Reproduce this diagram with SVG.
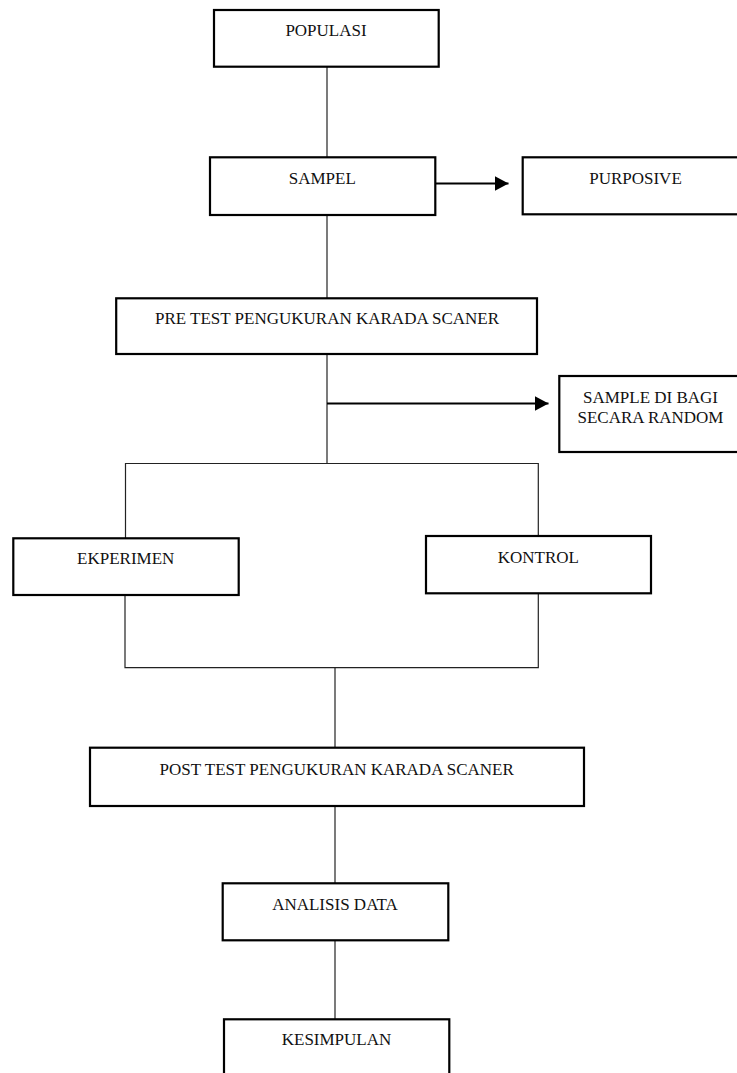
<svg xmlns="http://www.w3.org/2000/svg" width="737" height="1073" viewBox="0 0 737 1073">
<style>
.box{fill:#fff;stroke:#000;stroke-width:2.2}
.t{font-family:"Liberation Serif","Times New Roman",serif;font-size:17px;fill:#111;text-anchor:middle}
.c{fill:none;stroke:#222;stroke-width:1.2}
.a{fill:none;stroke:#000;stroke-width:2}
</style>
<defs>
<marker id="ah" markerUnits="userSpaceOnUse" markerWidth="15" markerHeight="16" refX="14" refY="8" orient="auto">
<path d="M0,0.5 L14,8 L0,15.5 z" fill="#000"/>
</marker>
</defs>
<rect width="737" height="1073" fill="#fff"/>
<g id="connectors">
<line class="c" x1="327" y1="66.7" x2="327" y2="157.3"/>
<line class="a" x1="435.3" y1="183.5" x2="508.5" y2="183.5" marker-end="url(#ah)"/>
<line class="c" x1="327" y1="215" x2="327" y2="298.3"/>
<line class="c" x1="327" y1="354" x2="327" y2="463.5"/>
<line class="a" x1="327" y1="403.5" x2="548.5" y2="403.5" marker-end="url(#ah)"/>
<polyline class="c" points="125.5,538.3 125.5,463.5 538.3,463.5 538.3,536"/>
<polyline class="c" points="125,595 125,667.7 538.3,667.7 538.3,593.3"/>
<line class="c" x1="335" y1="667.7" x2="335" y2="747.7"/>
<line class="c" x1="335" y1="806" x2="335" y2="883.3"/>
<line class="c" x1="335" y1="940.3" x2="335" y2="1019.3"/>
</g>
<g id="populasi">
<rect class="box" x="214" y="10" width="224.7" height="56.7"/>
<text class="t" x="326" y="36">POPULASI</text>
</g>
<g id="sampel">
<rect class="box" x="210" y="157.3" width="225.3" height="57.7"/>
<text class="t" x="322.3" y="184.3">SAMPEL</text>
</g>
<g id="purposive">
<rect class="box" x="522.7" y="157.3" width="220" height="57"/>
<text class="t" x="635.5" y="184.3">PURPOSIVE</text>
</g>
<g id="pretest">
<rect class="box" x="116.2" y="298.3" width="420.8" height="55.7"/>
<text class="t" x="327" y="324.3">PRE TEST PENGUKURAN KARADA SCANER</text>
</g>
<g id="random">
<rect class="box" x="559.3" y="376" width="185" height="76"/>
<text class="t" x="650.5" y="403.3">SAMPLE DI BAGI</text>
<text class="t" x="650.5" y="423.3">SECARA RANDOM</text>
</g>
<g id="ekperimen">
<rect class="box" x="13.3" y="538.3" width="225.4" height="56.7"/>
<text class="t" x="125.7" y="564.3">EKPERIMEN</text>
</g>
<g id="kontrol">
<rect class="box" x="426" y="536" width="225" height="57.3"/>
<text class="t" x="538.3" y="563.3">KONTROL</text>
</g>
<g id="posttest">
<rect class="box" x="90" y="747.7" width="494" height="58.3"/>
<text class="t" x="336.7" y="774.5">POST TEST PENGUKURAN KARADA SCANER</text>
</g>
<g id="analisis">
<rect class="box" x="222.7" y="883.3" width="225.6" height="57"/>
<text class="t" x="335" y="910">ANALISIS DATA</text>
</g>
<g id="kesimpulan">
<rect class="box" x="224" y="1019.3" width="225.3" height="70"/>
<text class="t" x="336.5" y="1045">KESIMPULAN</text>
</g>
</svg>
